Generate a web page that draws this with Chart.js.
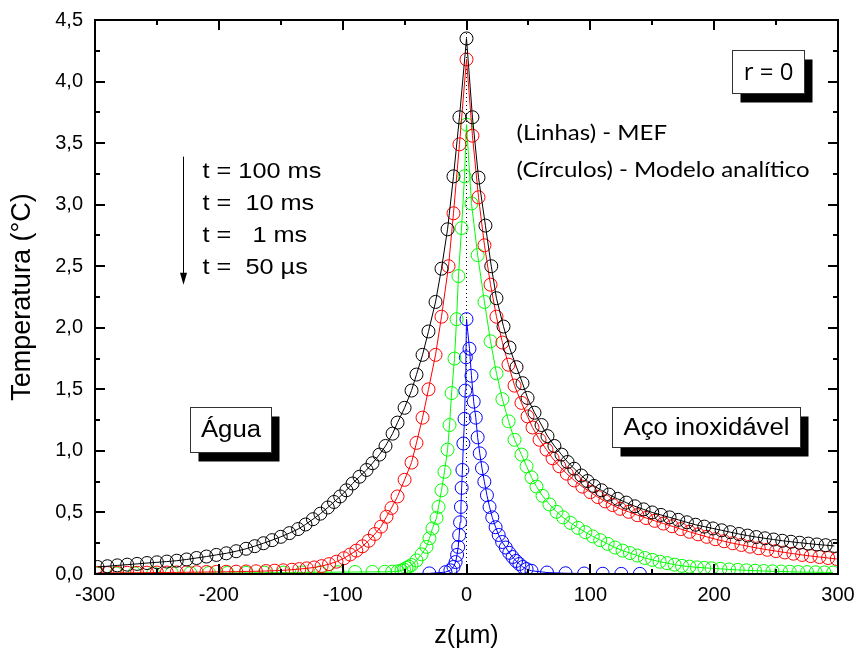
<!DOCTYPE html>
<html>
<head>
<meta charset="utf-8">
<script src="https://cdn.jsdelivr.net/npm/chart.js@4.4.0/dist/chart.umd.min.js"></script>
<style>
  html, body { margin: 0; padding: 0; background: #fff; }
  #wrap { width: 858px; height: 652px; }
</style>
</head>
<body>
<div id="wrap"><canvas id="grafico" width="858" height="652"></canvas></div>
<script>
// eixos
const limitesZ = [-300, 300];
const limitesT = [0, 4.5];
const marcasZ = [-300, -200, -100, 0, 100, 200, 300];
const marcasT = [0, 0.5, 1, 1.5, 2, 2.5, 3, 3.5, 4, 4.5];

// t = 100 ms
const zPreto = [-298,-290,-282,-274,-266,-258,-250,-242,-234,-226,-218,-210,-202,-194,-186,-178,-171,-164,-157,-150,
  -143,-136,-130,-124,-118,-112,-107,-102,-97,-92,-86.4,-80.7,-75.9,-70.3,-65.4,-59.7,-55.7,-50,-44.4,-40.4,
  -35.5,-30.7,-25,-20.2,-15.3,-10.5,-5.7,0,
  4.8,9.7,15.3,20,24.2,29.9,34.7,40.4,45.2,49.3,54.9,60.6,65.4,71,76.7,81.6,87,92.7,97.7,103,
  109,115,122,129,136,143,150,157,164,171,178,185,192,199,206,213,220,227,234,241,248,255,262,269,276,283,290,297];
const tPreto = [0.057,0.063,0.070,0.076,0.082,0.089,0.095,0.101,0.108,0.118,0.130,0.142,0.155,0.168,0.185,0.205,0.226,0.250,0.275,0.302,
  0.332,0.365,0.402,0.445,0.490,0.540,0.585,0.630,0.680,0.735,0.79,0.845,0.90,0.97,1.04,1.14,1.23,1.35,1.49,1.62,
  1.78,1.97,2.21,2.48,2.80,3.23,3.71,4.35,
  3.71,3.22,2.83,2.50,2.24,2.01,1.84,1.68,1.55,1.43,1.31,1.21,1.12,1.04,0.97,0.91,0.855,0.80,0.755,0.715,
  0.68,0.645,0.61,0.58,0.55,0.525,0.50,0.48,0.46,0.44,0.42,0.40,0.385,0.37,0.355,0.34,0.325,0.312,0.300,0.290,0.280,0.270,0.262,0.254,0.247,0.240,0.234,0.228];

// t = 10 ms
const zVermelho = [-298,-290,-282,-274,-266,-258,-250,-242,-234,-226,-218,-210,-202,-194,-186,-178,-170,-162,-155,-148,
  -141,-135,-129,-123,-117,-111,-105,-99,-94,-89,-84,-79,-74,-69,-64.6,-60.6,-55.7,-50,-44.4,-40.4,
  -35.5,-30.7,-25,-20.2,-14.5,-10.5,-5.7,0,
  4.8,9.7,14.5,19.4,24.2,29,33.9,38.8,44.4,49.3,53.3,59,64.6,69.5,75,81,87,93.5,100,106,
  112,118,124,131,138,145,152,159,166,173,180,187,194,201,208,215,222,229,236,243,250,257,264,271,278,285,292,299];
const tVermelho = [0.008,0.009,0.009,0.010,0.010,0.011,0.012,0.012,0.013,0.014,0.015,0.016,0.017,0.018,0.019,0.021,0.022,0.024,0.027,0.030,
  0.035,0.040,0.046,0.053,0.064,0.080,0.100,0.128,0.158,0.190,0.225,0.270,0.325,0.385,0.465,0.536,0.63,0.765,0.905,1.065,
  1.27,1.50,1.78,2.09,2.50,2.93,3.49,4.18,
  3.56,3.06,2.67,2.35,2.09,1.88,1.70,1.53,1.39,1.28,1.19,1.09,1.01,0.94,0.875,0.815,0.76,0.71,0.665,0.625,
  0.59,0.56,0.53,0.505,0.478,0.455,0.432,0.41,0.388,0.365,0.343,0.322,0.302,0.283,0.266,0.25,0.236,0.222,0.209,0.197,0.186,0.175,0.165,0.155,0.146,0.138,0.13,0.122];

// t = 1 ms
const zVerde = [-298,-283,-268,-253,-238,-223,-208,-193,-178,-163,-148,-133,-118,-104,-90,-76,-66,-60,-55.5,-52.5,
  -50.5,-48.5,-46.5,-44.4,-40.4,-36.3,-32.3,-29.9,-27.5,-24.2,-22.6,-20.2,-17.8,-15.3,-13.7,-12,-9.7,-8,-6.5,-4,-1.6,0,
  4,9,14.5,19.4,24.2,29,34,38.8,44.4,48.5,52.5,56.5,61.4,67,72.7,78,84,90,96,102,
  108,114,120,126,132,138,144,150,156,162,168,174,180,186,192,198,205,212,219,226,233,240,247,254,261,268,275,282,289,296];
const tVerde = [0.005,0.005,0.006,0.006,0.007,0.007,0.008,0.009,0.010,0.011,0.012,0.013,0.014,0.015,0.016,0.017,0.018,0.019,0.022,0.028,
  0.037,0.049,0.06,0.073,0.11,0.16,0.22,0.29,0.37,0.455,0.545,0.68,0.83,1.01,1.21,1.47,1.75,2.07,2.42,2.81,3.23,3.65,
  3.01,2.59,2.21,1.89,1.63,1.42,1.24,1.09,0.97,0.875,0.785,0.71,0.635,0.565,0.505,0.46,0.415,0.375,0.34,0.305,
  0.275,0.245,0.215,0.19,0.17,0.15,0.13,0.115,0.10,0.088,0.076,0.066,0.06,0.054,0.05,0.046,0.042,0.037,0.033,0.03,0.027,0.024,0.022,0.02,0.018,0.016,0.015,0.014,0.013,0.012];

// t = 50 us (nas pontas so a linha)
const zAzul = [-300,-30,-17,-13,-10.5,-8.8,-7.6,-6.7,-5.9,-5.2,-4.5,-3.9,-3.3,-2.5,-1.6,-1,-0.5,0,
  2.4,4,5.8,7.5,9,10.7,12.5,14.4,16.5,18.6,20.8,23.5,26,28.8,31.7,34.5,37.2,40,42.7,45.5,48.5,52.5,65,80,95,110,125,140,300];
const tAzul = [0,0.005,0.015,0.03,0.057,0.097,0.155,0.22,0.315,0.42,0.545,0.70,0.845,1.06,1.26,1.49,1.76,2.07,
  1.83,1.61,1.40,1.27,1.11,0.98,0.86,0.75,0.64,0.545,0.46,0.38,0.317,0.26,0.215,0.172,0.138,0.106,0.081,0.057,0.04,0.026,0.012,0.006,0.004,0.002,0.001,0.001,0];

const tempos = ['t = 100 ms', 't =  10 ms', 't =   1 ms', 't =  50 \u00b5s'];

function pontos(zs, ts) {
  return zs.map((z, i) => ({ x: z, y: ts[i] }));
}

function serie(zs, ts, cor) {
  return {
    data: pontos(zs, ts),
    showLine: true,
    borderColor: cor,
    borderWidth: 1,
    pointStyle: 'circle',
    pointRadius: c => (c.raw && Math.abs(c.raw.x) >= 300 ? 0 : 6.5),
    pointBorderColor: cor,
    pointBorderWidth: 1,
    pointBackgroundColor: 'rgba(0,0,0,0)',
    tension: 0
  };
}

function texto(ctx, txt, px, py, fonte, esticar, alinhar) {
  ctx.save();
  ctx.font = fonte;
  ctx.fillStyle = '#000';
  ctx.textBaseline = 'middle';
  ctx.textAlign = alinhar || 'left';
  ctx.translate(px, py);
  ctx.scale(esticar, 1);
  ctx.fillText(txt, 0, 0);
  ctx.restore();
}

function caixa(ctx, x, y, z0, z1, t0, t1, rotulo, fonte, esticar) {
  const l = Math.round(x.getPixelForValue(z0)) + 0.5;
  const r = Math.round(x.getPixelForValue(z1)) + 0.5;
  const t = Math.round(y.getPixelForValue(t0)) + 0.5;
  const b = Math.round(y.getPixelForValue(t1)) + 0.5;
  ctx.save();
  ctx.fillStyle = '#000';
  ctx.fillRect(l + 8, t + 9, r - l, b - t);
  ctx.fillStyle = '#fff';
  ctx.fillRect(l, t, r - l, b - t);
  ctx.strokeStyle = '#333';
  ctx.lineWidth = 1;
  ctx.strokeRect(l, t, r - l, b - t);
  ctx.restore();
  texto(ctx, rotulo, (l + r) / 2, (t + b) / 2 + 1, fonte, esticar, 'center');
}

const moldura = {
  id: 'moldura',
  afterDatasetsDraw(chart) {
    const { ctx, chartArea: a, scales: { x, y } } = chart;
    ctx.save();
    ctx.strokeStyle = '#000';
    ctx.lineWidth = 2;
    ctx.strokeRect(a.left, a.top, a.right - a.left, a.bottom - a.top);
    ctx.beginPath();
    marcasZ.forEach((v, i) => {
      const lista = [[v, 10]];
      if (i < marcasZ.length - 1) lista.push([(v + marcasZ[i + 1]) / 2, 5]);
      lista.forEach(([m, len]) => {
        const px = Math.round(x.getPixelForValue(m));
        ctx.moveTo(px, a.bottom); ctx.lineTo(px, a.bottom - len);
        ctx.moveTo(px, a.top); ctx.lineTo(px, a.top + len);
      });
    });
    marcasT.forEach((v, i) => {
      const lista = [[v, 10]];
      if (i < marcasT.length - 1) lista.push([(v + marcasT[i + 1]) / 2, 5]);
      lista.forEach(([m, len]) => {
        const py = Math.round(y.getPixelForValue(m));
        ctx.moveTo(a.left, py); ctx.lineTo(a.left + len, py);
        ctx.moveTo(a.right, py); ctx.lineTo(a.right - len, py);
      });
    });
    ctx.stroke();
    ctx.restore();
  },
  afterDraw(chart) {
    const { ctx, scales: { x, y } } = chart;
    const estica = 1.15;

    // seta do tempo decrescente
    const sx = Math.round(x.getPixelForValue(-229.3)) + 0.5;
    const s0 = y.getPixelForValue(3.39);
    const s1 = y.getPixelForValue(2.35);
    ctx.save();
    ctx.strokeStyle = '#000';
    ctx.fillStyle = '#000';
    ctx.lineWidth = 1;
    ctx.beginPath();
    ctx.moveTo(sx, s0); ctx.lineTo(sx, s1 - 10);
    ctx.stroke();
    ctx.beginPath();
    ctx.moveTo(sx - 3.5, s1 - 12); ctx.lineTo(sx + 3.5, s1 - 12); ctx.lineTo(sx, s1);
    ctx.closePath();
    ctx.fill();
    ctx.restore();

    const linhasT = [3.266, 3.006, 2.746, 2.486];
    tempos.forEach((txt, i) => {
      texto(ctx, txt, x.getPixelForValue(-213.2), y.getPixelForValue(linhasT[i]),
        '22px "Liberation Sans", Arial, sans-serif', estica);
    });

    // legenda do metodo
    const fonteLeg = '21px Lato, sans-serif';
    ctx.save();
    ctx.font = fonteLeg;
    const larg = ctx.measureText('(C\u00edrculos) - Modelo anal\u00edtico').width;
    ctx.restore();
    const fator = 293 / larg;
    texto(ctx, '(Linhas) - MEF', x.getPixelForValue(40.4), y.getPixelForValue(3.582), fonteLeg, fator);
    texto(ctx, '(C\u00edrculos) - Modelo anal\u00edtico', x.getPixelForValue(40.4), y.getPixelForValue(3.282), fonteLeg, fator);

    caixa(ctx, x, y, 214.0, 272.9, 4.257, 3.907, 'r = 0', '24px "Open Sans", sans-serif', 1.0);
    caixa(ctx, x, y, -222.9, -157.5, 1.357, 0.991, '\u00c1gua', '23px "Liberation Sans", Arial, sans-serif', 1.12);
    caixa(ctx, x, y, 117.1, 269.7, 1.357, 1.032, 'A\u00e7o inoxid\u00e1vel', '23px "Liberation Sans", Arial, sans-serif', 1.12);
  }
};

const fonteEixo = { family: '"Liberation Sans", Arial, sans-serif', size: 20 };

new Chart(document.getElementById('grafico'), {
  type: 'scatter',
  data: {
    datasets: [
      serie(zPreto, tPreto, '#000000'),
      serie(zVermelho, tVermelho, '#ff0000'),
      serie(zVerde, tVerde, '#00ff00'),
      serie(zAzul, tAzul, '#0000ff'),
      {
        data: [{ x: 0, y: limitesT[0] }, { x: 0, y: limitesT[1] }],
        showLine: true,
        borderColor: '#000',
        borderWidth: 1,
        borderDash: [1, 3],
        pointRadius: 0
      }
    ]
  },
  options: {
    responsive: false,
    animation: false,
    devicePixelRatio: 1,
    layout: { padding: { top: 20, right: 20, left: 0, bottom: 0 } },
    plugins: { legend: { display: false }, tooltip: { enabled: false } },
    scales: {
      x: {
        type: 'linear',
        min: limitesZ[0],
        max: limitesZ[1],
        grid: { display: false, drawTicks: false },
        border: { display: false },
        afterFit: s => { s.height = 78; s.paddingLeft = 0; s.paddingRight = 0; },
        afterBuildTicks: s => { s.ticks = marcasZ.map(v => ({ value: v })); },
        ticks: {
          padding: 9,
          color: '#000',
          font: fonteEixo,
          maxRotation: 0,
          callback: v => String(v)
        },
        title: {
          display: true,
          text: 'z(\u00b5m)',
          color: '#000',
          font: { family: '"Liberation Sans", Arial, sans-serif', size: 25 },
          padding: { top: 0, bottom: 1 }
        }
      },
      y: {
        type: 'linear',
        min: limitesT[0],
        max: limitesT[1],
        grid: { display: false, drawTicks: false },
        border: { display: false },
        afterFit: s => { s.width = 95; s.paddingTop = 0; s.paddingBottom = 0; },
        afterBuildTicks: s => { s.ticks = marcasT.map(v => ({ value: v })); },
        ticks: {
          padding: 12,
          color: '#000',
          font: fonteEixo,
          callback: v => v.toFixed(1).replace('.', ',')
        },
        title: {
          display: true,
          text: 'Temperatura (\u00b0C)',
          color: '#000',
          font: { family: '"Liberation Sans", Arial, sans-serif', size: 27 },
          padding: { top: 6, bottom: 0 }
        }
      }
    }
  },
  plugins: [moldura]
});
</script>
</body>
</html>
